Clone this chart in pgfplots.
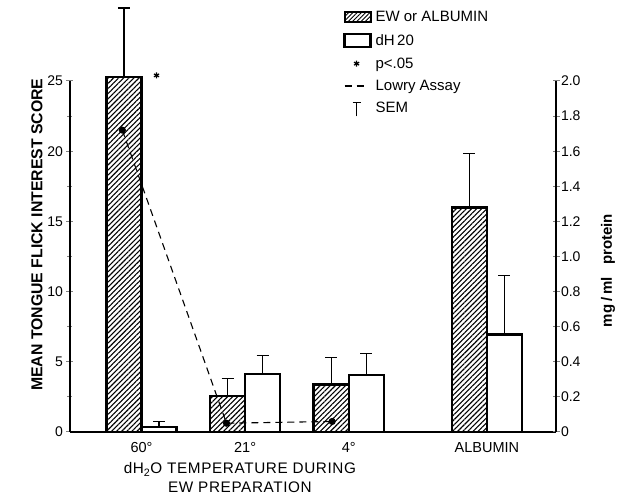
\documentclass[border=0pt]{standalone}
\usepackage{fontspec}
\setmainfont{Liberation Sans}
\usepackage{pgfplots}
\usepackage{pgfplotstable}
\pgfplotsset{compat=1.18}
\usetikzlibrary{patterns.meta}

\pgfplotstableread{
x    y     e
0    25.3  4.9
1    2.55  1.25
2    3.4   1.9
3.333 16.0 3.86
}\ewdata
\pgfplotstableread{
x    y     e
0    0.35  0.39
1    4.12  1.36
2    4.07  1.53
3.333 6.93 4.21
}\waterdata

\begin{document}
\begin{tikzpicture}[font=\fontsize{13}{15}\selectfont]
\path (-70pt,-65pt) rectangle (549pt,432pt);
\begin{axis}[
  scale only axis, width=486pt, height=351pt,
  xmin=-0.69, xmax=4.0, ymin=0, ymax=25,
  axis x line*=bottom, axis y line*=left,
  axis line style={-, line width=1.2pt},
  clip=false,
  xtick={0,1,2,3.333},
  xticklabels={60\textdegree,21\textdegree,4\textdegree,ALBUMIN},
  xtick style={draw=none},
  xticklabel style={yshift=-3pt, font=\fontsize{14.5}{16}\selectfont},
  ytick={0,5,10,15,20,25},
  minor ytick={2.5,7.5,12.5,17.5,22.5},
  ytick style={line width=1pt},
  tick align=center, major tick length=7pt, minor tick length=5pt,
  yticklabel style={font=\fontsize{14}{16}\selectfont},
  /pgf/number format/assume math mode=true,
  legend style={at={(rel axis cs:0.562,1.202)}, anchor=north west, draw=none, fill=none,
    font=\fontsize{15}{16}\selectfont, row sep=8.5pt, inner sep=0pt,
    nodes={inner sep=1pt}},
  legend cell align=left,
]
% error bars (upper SEM)
\addplot[forget plot, draw=none, mark=none,
  error bars/.cd, y dir=plus, y explicit, error mark=|,
  error bar style={draw=black, line width=1.1pt, solid},
  error mark options={draw=black, line width=1.1pt, mark size=6pt}]
  table[x expr=\thisrow{x}-0.169, y=y, y error=e] {\ewdata};
\addplot[forget plot, draw=none, mark=none,
  error bars/.cd, y dir=plus, y explicit, error mark=|,
  error bar style={draw=black, line width=1.1pt, solid},
  error mark options={draw=black, line width=1.1pt, mark size=6pt}]
  table[x expr=\thisrow{x}+0.169, y=y, y error=e] {\waterdata};
% bars
\addplot[ybar, forget plot, bar width=0.338, bar shift=-0.169, draw=black, line width=2.5pt,
  pattern={Lines[angle=45, distance=3.6pt, line width=1.1pt]}]
  table[x=x, y=y] {\ewdata};
\addplot[ybar, forget plot, bar width=0.338, bar shift=0.169, draw=black, fill=white, line width=2.5pt]
  table[x=x, y=y] {\waterdata};
\addplot[only marks, mark=asterisk, mark size=3pt, mark options={line width=1.2pt}, forget plot]
  coordinates {(0.145,25.4)};

\addlegendimage{legend image code/.code={
  \path[draw=none] (0pt,0pt) -- (31pt,0pt);
  \draw[line width=2pt, pattern={Lines[angle=45, distance=3pt, line width=0.9pt]}] (1pt,-5pt) rectangle (27pt,5pt);}}
\addlegendentry{EW or ALBUMIN}
\addlegendimage{legend image code/.code={
  \path[draw=none] (0pt,0pt) -- (31pt,0pt);
  \draw[line width=2.5pt, fill=white] (1pt,-6.5pt) rectangle (27pt,6.5pt);}}
\addlegendentry{dH\,20}
\addlegendimage{legend image code/.code={
  \path[draw=none] (0pt,0pt) -- (31pt,0pt);
  \path[draw=none, mark=asterisk, mark size=3pt, mark options={draw=black, line width=1.2pt}] plot coordinates {(13pt,0pt)};}}
\addlegendentry{p<.05}
\addlegendimage{legend image code/.code={
  \path[draw=none] (0pt,0pt) -- (31pt,0pt);
  \draw[line width=1.1pt, dash pattern=on 7pt off 5pt] (1pt,0pt)--(22pt,0pt);}}
\addlegendentry{Lowry Assay}
\addlegendimage{legend image code/.code={
  \path[draw=none] (0pt,0pt) -- (31pt,0pt);
  \draw[line width=1.1pt] (13pt,-8pt)--(13pt,6pt) (9pt,6pt)--(17pt,6pt);}}
\addlegendentry{SEM}

\node[rotate=90, font=\bfseries\fontsize{15.8}{17}\selectfont] at (rel axis cs:-0.068,0.562)
  {MEAN TONGUE FLICK INTEREST SCORE};
\node[align=center, anchor=north, font=\addfontfeature{LetterSpace=4}\fontsize{15.3}{18.5}\selectfont] at (axis cs:0.95,-1.95)
  {dH\textsubscript{2}O TEMPERATURE DURING\\EW PREPARATION};
\end{axis}

\begin{axis}[
  scale only axis, width=486pt, height=351pt,
  xmin=-0.69, xmax=4.0, ymin=0, ymax=2,
  axis x line=none, axis y line*=right,
  axis line style={-, line width=1.2pt},
  clip=false,
  ytick={0,0.2,0.4,0.6,0.8,1.0,1.2,1.4,1.6,1.8,2.0},
  yticklabels={0,0.2,0.4,0.6,0.8,1.0,1.2,1.4,1.6,1.8,2.0},
  ytick style={line width=1pt},
  tick align=center, major tick length=7pt,
  yticklabel style={font=\fontsize{14}{16}\selectfont, xshift=-2pt},
  /pgf/number format/assume math mode=true,
]
\addplot[line width=1.1pt, dash pattern=on 7pt off 5pt, mark=*, mark size=3pt, mark options={solid, fill=black}]
  coordinates {(-0.185,1.72) (0.82,0.05) (1.84,0.06)};
\node[rotate=90, font=\bfseries\fontsize{15}{16}\selectfont] at (rel axis cs:1.107,0.46)
  {mg\hspace{3pt}/\hspace{3pt}ml\hspace{12pt}protein};
\end{axis}
\end{tikzpicture}
\end{document}
